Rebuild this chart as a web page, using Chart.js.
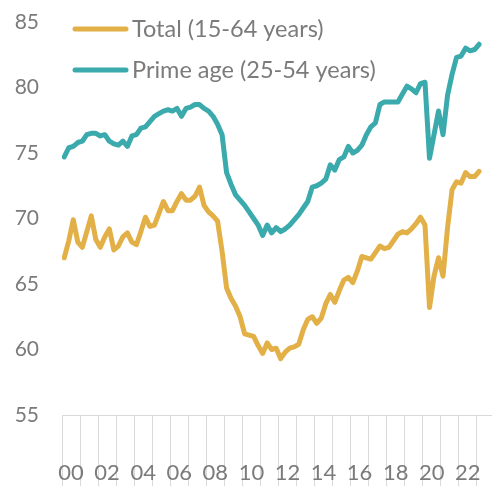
<!DOCTYPE html>
<html>
<head>
<meta charset="utf-8">
<script src="https://cdn.jsdelivr.net/npm/chart.js@4.4.0/dist/chart.umd.min.js"></script>
<style>
html, body { margin: 0; padding: 0; background: #fff; }
</style>
</head>
<body>
<canvas id="chart" width="492" height="486"></canvas>
<script>
// quarterly data, 2000 Q1 .. 2023 Q1
var startYear = 2000;

var total = [
  67.0, 68.3, 69.9, 68.2,  67.8, 69.0, 70.2, 68.4,  67.8, 68.6, 69.2, 67.6,
  67.9, 68.6, 68.9, 68.2,  68.0, 69.0, 70.1, 69.4,  69.5, 70.4, 71.3, 70.6,
  70.6, 71.3, 71.9, 71.4,  71.4, 71.7, 72.4, 71.0,  70.5, 70.2, 69.8, 67.5,
  64.7, 63.9, 63.3, 62.5,  61.2, 61.1, 61.0, 60.3,  59.7, 60.5, 60.0, 60.1,
  59.3, 59.8, 60.1, 60.2,  60.4, 61.5, 62.3, 62.5,  62.0, 62.4, 63.5, 64.2,
  63.6, 64.5, 65.3, 65.5,  65.1, 66.0, 67.1, 67.0,  66.9, 67.4, 67.9, 67.7,
  67.8, 68.3, 68.8, 69.0,  68.9, 69.2, 69.6, 70.1,  69.5, 63.2, 65.6, 67.0,
  65.6, 69.3, 72.2, 72.8,  72.7, 73.5, 73.2, 73.2,  73.6
];

var primeAge = [
  74.7, 75.4, 75.5, 75.8,  75.9, 76.4, 76.5, 76.5,  76.3, 76.4, 75.9, 75.7,
  75.6, 75.9, 75.5, 76.3,  76.4, 76.9, 77.0, 77.4,  77.8, 78.0, 78.2, 78.3,
  78.2, 78.4, 77.8, 78.4,  78.5, 78.7, 78.7, 78.4,  78.2, 77.8, 77.2, 76.4,
  73.5, 72.6, 71.8, 71.4,  71.0, 70.5, 70.0, 69.5,  68.7, 69.5, 68.9, 69.3,
  69.0, 69.2, 69.5, 69.9,  70.3, 70.8, 71.3, 72.4,  72.5, 72.7, 73.0, 74.1,
  73.7, 74.5, 74.7, 75.5,  75.0, 75.2, 75.6, 76.4,  77.0, 77.3, 78.7, 78.9,
  78.9, 78.9, 78.9, 79.5,  80.1, 79.9, 79.6, 80.3,  80.4, 74.6, 76.4, 78.2,
  76.4, 79.4, 81.0, 82.3,  82.4, 83.0, 82.8, 82.9,  83.3
];

var yTicks = [55, 60, 65, 70, 75, 80, 85];
var xLabelYears = [2000, 2002, 2004, 2006, 2008, 2010, 2012, 2014, 2016, 2018, 2020, 2022];
var gridYears = [];
for (var g = 2000; g <= 2023; g++) gridYears.push(g);

var yellow = "#e2b046";
var teal = "#3aaaad";
var textGrey = "#7b7b7b";
var lineGrey = "#d9d9d9";
var fontFamily = "Lato, 'Open Sans', sans-serif";

function toPoints(arr) {
  return arr.map(function (v, i) {
    return { x: startYear + (i + 0.5) / 4, y: v };
  });
}

// own legend, drawn inside the plot area
var legendInArea = {
  id: "legendInArea",
  afterDraw: function (chart) {
    var c = chart.ctx;
    var rows = [29, 70];
    c.save();
    chart.data.datasets.forEach(function (ds, i) {
      c.strokeStyle = ds.borderColor;
      c.lineWidth = 5;
      c.lineCap = "round";
      c.beginPath();
      c.moveTo(75, rows[i]);
      c.lineTo(126, rows[i]);
      c.stroke();
      c.fillStyle = textGrey;
      c.font = "23.5px " + fontFamily;
      c.textBaseline = "middle";
      c.textAlign = "left";
      c.fillText(ds.label, 132, rows[i]);
    });
    c.restore();
  }
};

var chart = new Chart(document.getElementById("chart"), {
  type: "line",
  data: {
    datasets: [
      {
        label: "Total (15-64 years)",
        data: toPoints(total),
        borderColor: yellow,
        borderWidth: 5,
        pointRadius: 0,
        tension: 0,
        borderJoinStyle: "round",
        borderCapStyle: "round"
      },
      {
        label: "Prime age (25-54 years)",
        data: toPoints(primeAge),
        borderColor: teal,
        borderWidth: 5,
        pointRadius: 0,
        tension: 0,
        borderJoinStyle: "round",
        borderCapStyle: "round"
      }
    ]
  },
  options: {
    responsive: false,
    animation: false,
    devicePixelRatio: 1,
    layout: { padding: { top: 22, right: 0, bottom: 0, left: 0 } },
    plugins: {
      legend: { display: false },
      tooltip: { enabled: false }
    },
    scales: {
      x: {
        type: "linear",
        min: 2000,
        max: 2023.84,
        afterBuildTicks: function (axis) {
          var t = [];
          gridYears.forEach(function (y) { t.push({ value: y }); });
          xLabelYears.forEach(function (y) { t.push({ value: y + 0.5 }); });
          t.sort(function (a, b) { return a.value - b.value; });
          axis.ticks = t;
        },
        afterFit: function (axis) {
          axis.height = 71;
          axis.paddingLeft = 0;
          axis.paddingRight = 0;
        },
        ticks: {
          autoSkip: false,
          maxRotation: 0,
          minRotation: 0,
          padding: -27,
          color: textGrey,
          font: { family: fontFamily, size: 22 },
          callback: function (v) {
            if (Math.abs(v - Math.floor(v) - 0.5) < 1e-6) {
              return String(Math.floor(v) % 100).padStart(2, "0");
            }
            return "";
          }
        },
        grid: {
          drawOnChartArea: false,
          tickLength: 72,
          lineWidth: 1,
          color: function (ctx) {
            return ctx.tick && Number.isInteger(ctx.tick.value) ? lineGrey : "rgba(0,0,0,0)";
          }
        },
        border: { color: lineGrey, width: 1 }
      },
      y: {
        min: 55,
        max: 85,
        afterBuildTicks: function (axis) {
          axis.ticks = yTicks.map(function (v) { return { value: v }; });
        },
        afterFit: function (axis) {
          axis.width = 62;
          axis.paddingTop = 0;
          axis.paddingBottom = 0;
        },
        ticks: {
          padding: 23,
          color: textGrey,
          font: { family: fontFamily, size: 21 }
        },
        grid: { display: false, drawTicks: false },
        border: { display: false }
      }
    }
  },
  plugins: [legendInArea]
});
</script>
</body>
</html>
